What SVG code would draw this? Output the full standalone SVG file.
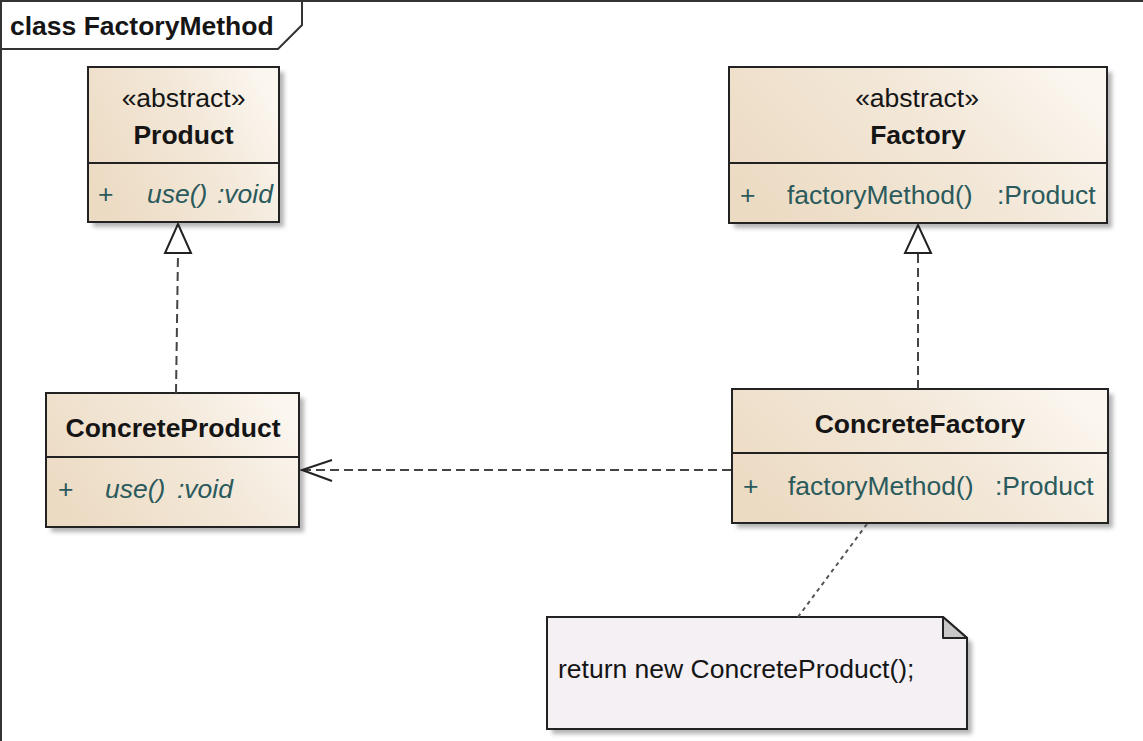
<svg xmlns="http://www.w3.org/2000/svg" width="1143" height="741" viewBox="0 0 1143 741">
<defs>
<linearGradient id="cls" x1="0" y1="0.7" x2="1" y2="0.3">
<stop offset="0" stop-color="#ecdbc3"/>
<stop offset="0.6" stop-color="#f3e8d9"/>
<stop offset="1" stop-color="#fbf6ef"/>
</linearGradient>
<filter id="blur" x="-10%" y="-10%" width="120%" height="120%">
<feGaussianBlur stdDeviation="2"/>
</filter>
<marker id="tri" viewBox="0 0 30 26" refX="0" refY="13" markerWidth="30" markerHeight="26" markerUnits="userSpaceOnUse" orient="auto">
<path d="M1,1 L29,13 L1,25 Z" fill="#fff" stroke="#222" stroke-width="2"/>
</marker>
</defs>
<style>
text{font-family:"Liberation Sans",Arial,sans-serif;font-size:26.5px;fill:#151515}
.b{font-weight:bold}
.m{fill:#2b5a5c}
.i{font-style:italic}
.box{fill:url(#cls);stroke:#222;stroke-width:2}
.div{stroke:#222;stroke-width:2}
.sh{fill:#b4b4b4;filter:url(#blur)}
.dash{fill:none;stroke:#444;stroke-width:2;stroke-dasharray:9 5}
.dot{fill:none;stroke:#555;stroke-width:2;stroke-dasharray:4 4}
.frame{fill:none;stroke:#333;stroke-width:2}
</style>

<g id="frame">
<path class="frame" d="M1,741 L1,1 L1143,1"/>
<path class="frame" d="M302,1 L302,25 L278,49 L1,49"/>
<text class="b" x="10" y="35">class FactoryMethod</text>
</g>

<g id="Product">
<rect class="sh" x="93" y="72" width="191" height="155"/>
<rect class="box" x="88" y="67" width="191" height="155"/>
<line class="div" x1="88" y1="163" x2="279" y2="163"/>
<text x="183.5" y="107" text-anchor="middle">«abstract»</text>
<text class="b" x="183.5" y="144" text-anchor="middle">Product</text>
<text class="m" x="98" y="203">+</text>
<text class="m i"><tspan x="147" y="203">use()</tspan><tspan x="217" y="203">:void</tspan></text>
</g>

<g id="Factory">
<rect class="sh" x="734" y="72" width="378" height="156"/>
<rect class="box" x="729" y="67" width="378" height="156"/>
<line class="div" x1="729" y1="163" x2="1107" y2="163"/>
<text x="917" y="107" text-anchor="middle">«abstract»</text>
<text class="b" x="918" y="144" text-anchor="middle">Factory</text>
<text class="m" x="740" y="204">+</text>
<text class="m"><tspan x="787" y="204">factoryMethod()</tspan><tspan x="997" y="204">:Product</tspan></text>
</g>

<g id="ConcreteProduct">
<rect class="sh" x="51" y="398" width="253" height="134"/>
<rect class="box" x="46" y="393" width="253" height="134"/>
<line class="div" x1="46" y1="457" x2="299" y2="457"/>
<text class="b" x="173" y="437" text-anchor="middle">ConcreteProduct</text>
<text class="m" x="58" y="498">+</text>
<text class="m i"><tspan x="105" y="498">use()</tspan><tspan x="177" y="498">:void</tspan></text>
</g>

<g id="ConcreteFactory">
<rect class="sh" x="737" y="394" width="376" height="134"/>
<rect class="box" x="732" y="389" width="376" height="134"/>
<line class="div" x1="732" y1="453" x2="1108" y2="453"/>
<text class="b" x="920" y="433" text-anchor="middle">ConcreteFactory</text>
<text class="m" x="743" y="495">+</text>
<text class="m"><tspan x="788" y="495">factoryMethod()</tspan><tspan x="995" y="495">:Product</tspan></text>
</g>

<g id="Note">
<path class="sh" d="M552,622 L948,622 L972,643 L972,734 L552,734 Z"/>
<path d="M547,617 L943,617 L967,638 L967,729 L547,729 Z" fill="#f4f0f4" stroke="#222" stroke-width="2"/>
<path d="M943,617 L943,638 L967,638 Z" fill="#c8c8c8" stroke="#222" stroke-width="2" stroke-linejoin="round"/>
<text x="558" y="678">return new ConcreteProduct();</text>
</g>

<g id="connectors">
<path class="dash" d="M176,393 L178,253"/>
<path d="M178,224 L191,253 L165,253 Z" fill="#fff" stroke="#222" stroke-width="2"/>
<path class="dash" d="M918,389 L918,253"/>
<path d="M918,225 L931,253 L905,253 Z" fill="#fff" stroke="#222" stroke-width="2"/>
<path class="dash" d="M731,470 L303,470"/>
<path d="M332,460 L302,470 L332,481" fill="none" stroke="#222" stroke-width="2"/>
<path class="dot" d="M867,524 L798,617"/>
</g>
</svg>
